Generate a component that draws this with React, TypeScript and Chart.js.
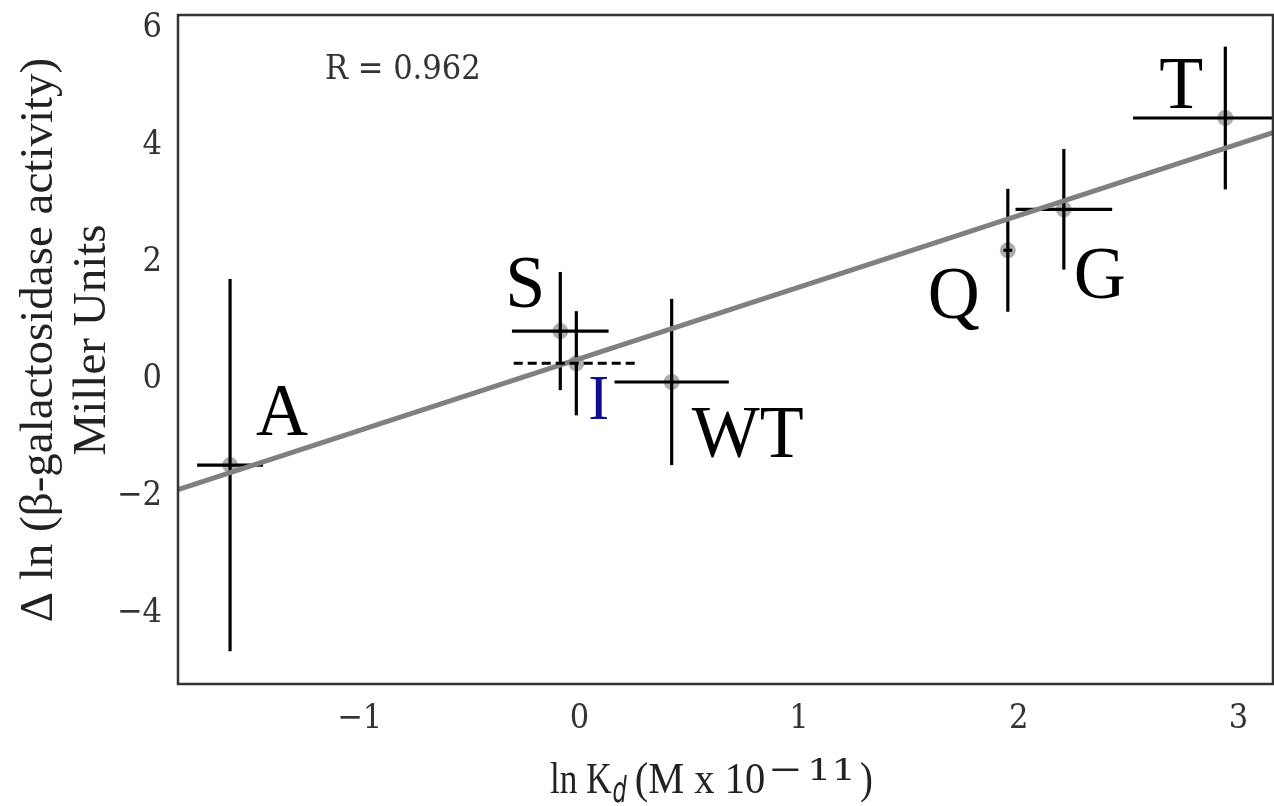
import React, { useEffect, useRef } from "react";
import { Chart, registerables } from "chart.js";

Chart.register(...registerables);

// ---- data ----
const mutantLabels = ["A", "S", "I", "WT", "Q", "G", "T"];
const lnKd = [-1.59, -0.087, -0.014, 0.42, 1.95, 2.205, 2.94];
const deltaLnActivity = [-1.52, 0.77, 0.22, -0.1, 2.15, 2.85, 4.41];
const lnKdError = [0.15, 0.22, 0.285, 0.26, 0.02, 0.22, 0.42];
const activityError = [3.18, 1.01, 0.89, 1.42, 1.05, 1.03, 1.22];
const dashedXErrorLabels = ["I"];
const fitSlope = 1.224;
const fitIntercept = 0.296;
const correlationText = "R = 0.962";
const xTickValues = [-1, 0, 1, 2, 3];
const yTickValues = [-4, -2, 0, 2, 4, 6];
const xRange = [-1.827, 3.157];
const yRange = [-5.26, 6.17];

// ---- label placement (pixel offsets from the point, baseline-left) ----
const labelOffsets: Record<string, [number, number]> = {
  A: [26, -30],
  S: [-55, -24],
  I: [12, 56],
  WT: [20, 75],
  Q: [-80, 68],
  G: [10, 89],
  T: [-66, -10],
};

function drawText(
  ctx: CanvasRenderingContext2D,
  s: string,
  x: number,
  y: number,
  font: string,
  color: string,
  sx = 1,
  sy = 1,
  align: CanvasTextAlign = "left",
  baseline: CanvasTextBaseline = "alphabetic",
  rot = 0
): number {
  ctx.save();
  ctx.translate(x, y);
  if (rot) ctx.rotate(rot);
  ctx.scale(sx, sy);
  ctx.font = font;
  ctx.fillStyle = color;
  ctx.textAlign = align;
  ctx.textBaseline = baseline;
  ctx.fillText(s, 0, 0);
  const w = ctx.measureText(s).width * sx;
  ctx.restore();
  return w;
}

const fmt = (v: number) => (v < 0 ? "\u2212" + Math.abs(v) : String(v));

const decorPlugin = {
  id: "decor",
  afterDatasetDraw(chart: any, args: any) {
    if (args.index !== 1) return;
    const { ctx, chartArea, scales } = chart;
    const xs = scales.x;
    const ys = scales.y;
    ctx.save();
    ctx.beginPath();
    ctx.rect(chartArea.left, chartArea.top, chartArea.right - chartArea.left, chartArea.bottom - chartArea.top);
    ctx.clip();
    ctx.strokeStyle = "#000";
    ctx.lineWidth = 3.2;
    ctx.lineCap = "butt";
    lnKd.forEach((xv, i) => {
      const px = xs.getPixelForValue(xv);
      const py = ys.getPixelForValue(deltaLnActivity[i]);
      ctx.setLineDash([]);
      ctx.beginPath();
      ctx.moveTo(px, ys.getPixelForValue(deltaLnActivity[i] + activityError[i]));
      ctx.lineTo(px, ys.getPixelForValue(deltaLnActivity[i] - activityError[i]));
      ctx.stroke();
      if (dashedXErrorLabels.includes(mutantLabels[i])) return;
      ctx.beginPath();
      ctx.moveTo(xs.getPixelForValue(xv - lnKdError[i]), py);
      ctx.lineTo(xs.getPixelForValue(xv + lnKdError[i]), py);
      ctx.stroke();
    });
    ctx.restore();
  },
  afterDatasetsDraw(chart: any) {
    const { ctx, scales } = chart;
    const xs = scales.x;
    const ys = scales.y;
    ctx.save();
    ctx.strokeStyle = "#000";
    ctx.lineWidth = 3.2;
    ctx.setLineDash([9, 5]);
    lnKd.forEach((xv, i) => {
      if (!dashedXErrorLabels.includes(mutantLabels[i])) return;
      const py = ys.getPixelForValue(deltaLnActivity[i]);
      ctx.beginPath();
      ctx.moveTo(xs.getPixelForValue(xv - lnKdError[i]), py);
      ctx.lineTo(xs.getPixelForValue(xv + lnKdError[i]), py);
      ctx.stroke();
    });
    ctx.restore();
  },
  afterDraw(chart: any) {
    const { ctx, chartArea, scales } = chart;
    const xs = scales.x;
    const ys = scales.y;
    ctx.save();
    ctx.strokeStyle = "#333";
    ctx.lineWidth = 2.5;
    ctx.strokeRect(chartArea.left, chartArea.top, chartArea.right - chartArea.left, chartArea.bottom - chartArea.top);
    ctx.restore();

    const tickFont = '34px "DejaVu Serif"';
    ys.ticks.forEach((t: any) => {
      drawText(ctx, fmt(t.value), 162, ys.getPixelForValue(t.value) + 3, tickFont, "#333", 0.9, 1, "right", "middle");
    });
    xs.ticks.forEach((t: any) => {
      drawText(ctx, fmt(t.value), xs.getPixelForValue(t.value), 719, tickFont, "#333", 0.9, 1, "center", "middle");
    });

    drawText(ctx, correlationText, 325, 79, tickFont, "#333", 0.9, 1, "left", "alphabetic");

    mutantLabels.forEach((lab, i) => {
      const px = xs.getPixelForValue(lnKd[i]);
      const py = ys.getPixelForValue(deltaLnActivity[i]);
      const [dx, dy] = labelOffsets[lab];
      const isI = lab === "I";
      drawText(
        ctx,
        lab,
        px + dx,
        py + dy,
        isI ? '63px "Liberation Serif"' : '72px "Liberation Serif"',
        isI ? "#10108c" : "#000",
        1,
        1.02
      );
    });

    const yFont = '47px "Liberation Serif"';
    drawText(ctx, "\u0394 ln (\u03b2-galactosidase activity)", 52, 340, yFont, "#222", 1, 1, "center", "alphabetic", -Math.PI / 2);
    drawText(ctx, "Miller Units", 105, 340, yFont, "#222", 1, 1, "center", "alphabetic", -Math.PI / 2);

    const xFont = '44px "Liberation Serif"';
    let cx = 550;
    cx += drawText(ctx, "ln K", cx, 793, xFont, "#222", 0.8, 1);
    cx += drawText(ctx, "d", cx + 1, 802, 'oblique 36px "DejaVu Sans"', "#222", 0.62, 1) + 9;
    cx += drawText(ctx, "(M x 10", cx, 793, xFont, "#222", 0.92, 1) + 3;
    cx += drawText(ctx, "\u2212", cx, 780, '32px "DejaVu Serif"', "#222", 1.3, 1) + 4;
    cx += drawText(ctx, "11", cx, 780, '32px "DejaVu Serif"', "#222", 1.2, 0.95) + 4;
    drawText(ctx, ")", cx, 793, xFont, "#222", 0.88, 1);
  },
};

export default function App() {
  const ref = useRef<HTMLCanvasElement | null>(null);
  useEffect(() => {
    if (!ref.current) return;
    const chart = new Chart(ref.current, {
      type: "scatter",
      data: {
        datasets: [
          {
            type: "line",
            label: "fit",
            data: [
              { x: xRange[0], y: fitSlope * xRange[0] + fitIntercept },
              { x: xRange[1], y: fitSlope * xRange[1] + fitIntercept },
            ],
            borderColor: "#808080",
            borderWidth: 5,
            pointRadius: 0,
            order: 1,
          } as any,
          {
            label: "mutants",
            data: lnKd.map((x, i) => ({ x, y: deltaLnActivity[i] })),
            backgroundColor: "rgba(120,120,120,0.6)",
            borderWidth: 0,
            pointRadius: 8,
            order: 2,
          },
        ],
      },
      options: {
        responsive: false,
        animation: false,
        devicePixelRatio: 1,
        layout: { autoPadding: false, padding: { top: 15, right: 1, left: 0, bottom: 0 } },
        plugins: { legend: { display: false }, tooltip: { enabled: false } },
        scales: {
          x: {
            type: "linear",
            min: xRange[0],
            max: xRange[1],
            grid: { display: false },
            border: { display: false },
            ticks: { display: false },
            afterBuildTicks: (s: any) => {
              s.ticks = xTickValues.map((v) => ({ value: v }));
            },
            afterFit: (s: any) => {
              s.height = 122;
            },
          },
          y: {
            type: "linear",
            min: yRange[0],
            max: yRange[1],
            grid: { display: false },
            border: { display: false },
            ticks: { display: false },
            afterBuildTicks: (s: any) => {
              s.ticks = yTickValues.map((v) => ({ value: v }));
            },
            afterFit: (s: any) => {
              s.width = 178;
            },
          },
        },
      } as any,
      plugins: [decorPlugin],
    });
    return () => chart.destroy();
  }, []);
  return (
    <div style={{ position: "fixed", left: 0, top: 0, width: 1274, height: 806, background: "#fff" }}>
      <canvas ref={ref} width={1274} height={806} style={{ width: 1274, height: 806 }} />
    </div>
  );
}
